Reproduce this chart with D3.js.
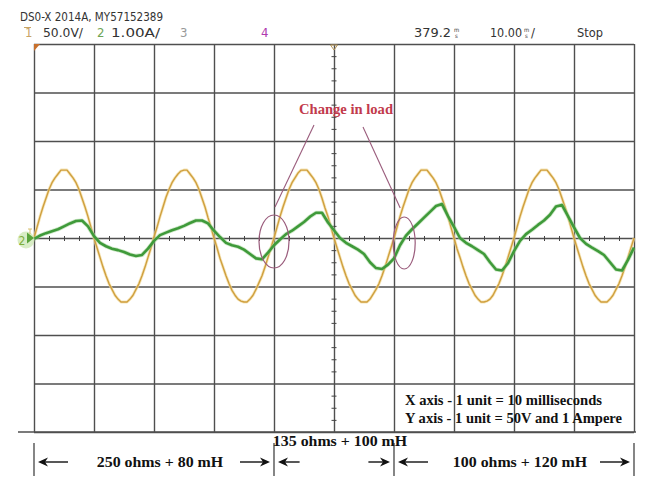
<!DOCTYPE html>
<html>
<head>
<meta charset="utf-8">
<script src="https://cdn.jsdelivr.net/npm/d3@7"></script>
<style>
  html, body { margin: 0; padding: 0; background: #fff; }
  svg { display: block; }
</style>
</head>
<body>
<svg id="scope" width="646" height="477"></svg>
<script>
// Oscilloscope capture: channel 1 = load voltage (50 V/div), channel 2 = load current (1 A/div), 10 ms/div

// Channel 1 voltage samples (V), one every 0.5 ms from 0 to 100 ms
const voltageSampleMs = 0.5;
const voltageV = [
  0, 11, 22, 32, 41, 50, 57, 62, 66, 70, 70, 70, 66, 62, 57, 50, 41, 32, 22, 11,
  0, -10, -20, -30, -39, -47, -53, -59, -63, -66, -66, -66, -63, -59, -53, -47, -39, -30, -20, -10,
  1, 11, 22, 32, 42, 50, 57, 62, 66, 69, 70, 70, 66, 62, 57, 50, 41, 32, 21, 11,
  0, -10, -21, -30, -39, -47, -54, -59, -63, -65, -66, -66, -63, -59, -53, -46, -39, -30, -20, -10,
  0, 11, 22, 32, 41, 50, 57, 62, 67, 70, 70, 70, 66, 62, 57, 50, 41, 31, 22, 11,
  0, -10, -20, -30, -39, -47, -53, -59, -63, -66, -66, -66, -63, -58, -53, -47, -39, -30, -20, -10,
  0, 11, 22, 32, 41, 50, 57, 62, 66, 70, 70, 70, 66, 62, 57, 50, 41, 32, 22, 11,
  0, -11, -20, -30, -39, -47, -53, -59, -63, -66, -66, -65, -63, -59, -53, -47, -39, -30, -20, -10,
  0, 11, 22, 32, 41, 50, 57, 62, 66, 70, 70, 70, 66, 62, 57, 50, 41, 32, 22, 11,
  0, -10, -20, -30, -39, -47, -53, -59, -63, -66, -66, -66, -63, -59, -53, -47, -39, -30, -20, -10,
  0
];

// Channel 2 current samples (A), one every 1 ms from 0 to 100 ms
const currentSampleMs = 1;
const currentA = [
  -0.02, 0.05, 0.10, 0.14, 0.18, 0.24, 0.30, 0.35, 0.36, 0.24,
  0.04, -0.10, -0.17, -0.22, -0.25, -0.29, -0.34, -0.37, -0.35, -0.22,
  -0.06, 0.06, 0.11, 0.16, 0.20, 0.25, 0.31, 0.36, 0.36, 0.30,
  0.15, 0.02, -0.10, -0.15, -0.18, -0.24, -0.33, -0.42, -0.44, -0.30,
  -0.15, -0.03, 0.08, 0.15, 0.24, 0.33, 0.44, 0.52, 0.52, 0.32,
  0.16, 0.00, -0.10, -0.17, -0.24, -0.33, -0.50, -0.62, -0.64, -0.55,
  -0.42, -0.15, 0.05, 0.18, 0.30, 0.42, 0.54, 0.66, 0.70, 0.45,
  0.23, 0.00, -0.10, -0.17, -0.25, -0.33, -0.50, -0.65, -0.67, -0.52,
  -0.27, -0.06, 0.08, 0.17, 0.27, 0.36, 0.48, 0.65, 0.68, 0.45,
  0.22, 0.00, -0.12, -0.20, -0.27, -0.35, -0.50, -0.65, -0.67, -0.45,
  -0.20
];

// Graticule: major divisions
const timeGridMs = [0, 10, 20, 30, 40, 50, 60, 70, 80, 90, 100];
const voltGridV = [-200, -150, -100, -50, 0, 50, 100, 150, 200];

// Load periods shown beneath the trace
const loadLabels = ["250 ohms + 80 mH", "135 ohms + 100 mH", "100 ohms + 120 mH"];
const loadStartMs = [0, 40, 60];
const loadEndMs = [40, 60, 100];

// Instants where the load is switched (ms)
const loadChangeMs = [40, 61.7];

// Header readouts
const modelText = "DS0-X 2014A, MY57152389";
const ch1Scale = "50.0V/";
const ch2Scale = "1.00A/";
const delayText = "379.2";
const timebaseText = "10.00";
const runState = "Stop";
const unitNotes = ["X axis - 1 unit = 10 milliseconds", "Y axis - 1 unit = 50V and 1 Ampere"];

// ---------------------------------------------------------------------------
(function draw() {
const svg = d3.select("#scope");
const plotL = 34, plotR = 634, plotT = 44, plotB = 432;

const x = d3.scaleLinear().domain([0, 100]).range([plotL, plotR]);
const yV = d3.scaleLinear().domain([-200, 200]).range([plotB, plotT]);
const yA = d3.scaleLinear().domain([-4, 4]).range([plotB, plotT]);

const gridColor = "#4f4f4f";
const narrow = "'Liberation Sans Narrow', 'Arial Narrow', 'DejaVu Sans Condensed', sans-serif";
const serif = "'Liberation Serif', 'Times New Roman', serif";

// Graticule lines via axes
const gx = svg.append("g")
  .attr("transform", `translate(0,${plotB})`)
  .call(d3.axisBottom(x).tickValues(timeGridMs).tickSize(-(plotB - plotT)).tickFormat(""));
gx.select(".domain").remove();
gx.selectAll("line").attr("stroke", gridColor).attr("stroke-width", 1.4);

const gy = svg.append("g")
  .attr("transform", `translate(${plotL},0)`)
  .call(d3.axisLeft(yV).tickValues(voltGridV).tickSize(-(plotR - plotL)).tickFormat(""));
gy.select(".domain").remove();
gy.selectAll("line").attr("stroke", gridColor).attr("stroke-width", 1.4);

// Bottom frame line runs a bit past the graticule
svg.append("line").attr("x1", 18).attr("x2", plotR + 2).attr("y1", plotB).attr("y2", plotB)
  .attr("stroke", gridColor).attr("stroke-width", 1.4);

// Minor ticks on the centre cross
const minorT = d3.range(0, 100.001, 10 / 4).filter(t => t % 10 !== 0);
const cx0 = x(50), cy0 = yV(0);
const hTicks = svg.append("g")
  .attr("transform", `translate(0,${cy0 - 2})`)
  .call(d3.axisBottom(x).tickValues(minorT).tickSize(5).tickFormat(""));
hTicks.select(".domain").remove();
hTicks.selectAll("line").attr("stroke", "#444").attr("stroke-width", 1);

const minorV = d3.range(-200, 200.001, 50 / 4).filter(v => v % 50 !== 0);
const vTicks = svg.append("g")
  .attr("transform", `translate(${cx0 - 2.5},0)`)
  .call(d3.axisRight(yV).tickValues(minorV).tickSize(5).tickFormat(""));
vTicks.select(".domain").remove();
vTicks.selectAll("line").attr("stroke", "#444").attr("stroke-width", 1);

// Traces
const vPts = voltageV.map((v, i) => [i * voltageSampleMs, v]);
const aPts = currentA.map((a, i) => [i * currentSampleMs, a]);

const vLine = d3.line().x(d => x(d[0])).y(d => yV(d[1]));
const aLine = d3.line().x(d => x(d[0])).y(d => yA(d[1]));

svg.append("path").datum(vPts).attr("d", vLine)
  .attr("fill", "none").attr("stroke", "#f2dc9c").attr("stroke-width", 3).attr("opacity", 0.7)
  .attr("stroke-linejoin", "round");
svg.append("path").datum(vPts).attr("d", vLine)
  .attr("fill", "none").attr("stroke", "#cf9f3e").attr("stroke-width", 1.4)
  .attr("stroke-linejoin", "round");

svg.append("path").datum(aPts).attr("d", aLine)
  .attr("fill", "none").attr("stroke", "#9fd494").attr("stroke-width", 4.2).attr("opacity", 0.5)
  .attr("stroke-linejoin", "round");
svg.append("path").datum(aPts).attr("d", aLine)
  .attr("fill", "none").attr("stroke", "#3f9a3a").attr("stroke-width", 2.6)
  .attr("stroke-linejoin", "round");

// Channel markers
svg.append("path").attr("d", `M${plotL},${plotT} L${plotL + 6},${plotT} L${plotL},${plotT + 7} Z`)
  .attr("fill", "#c8702c");
svg.append("path").attr("d", `M${cx0 - 3.5},${plotT + 1} L${cx0 + 3.5},${plotT + 1} L${cx0},${plotT + 6} Z`)
  .attr("fill", "none").attr("stroke", "#b8985a").attr("stroke-width", 1);

const gnd = svg.append("g");
gnd.append("circle").attr("cx", 26).attr("cy", 240).attr("r", 8.5).attr("fill", "#cfe8b8").attr("opacity", 0.8);
gnd.append("text").attr("x", 18.5).attr("y", 244.5).text("2")
  .attr("font-family", narrow).attr("font-size", 12).attr("fill", "#7fae3c");
gnd.append("path").attr("d", `M27,${cy0 - 5.5} L${plotL},${cy0} L27,${cy0 + 5.5} Z`).attr("fill", "#5aa43c");
gnd.append("line").attr("x1", 28).attr("x2", 32).attr("y1", 229).attr("y2", 229)
  .attr("stroke", "#d8c070").attr("stroke-width", 1);
gnd.append("line").attr("x1", 30).attr("x2", 30).attr("y1", 229).attr("y2", 234)
  .attr("stroke", "#d8c070").attr("stroke-width", 1);

// Header
const hdr = svg.append("g").attr("font-family", narrow).attr("font-size", 13).attr("fill", "#333");
hdr.append("text").attr("x", 20).attr("y", 21).text(modelText)
  .attr("textLength", 143).attr("lengthAdjust", "spacingAndGlyphs");

const row = 37;
hdr.append("text").attr("x", 25).attr("y", row).text("1").attr("fill", "#c9a466");
hdr.append("line").attr("x1", 24).attr("x2", 31).attr("y1", row - 9.5).attr("y2", row - 9.5)
  .attr("stroke", "#c9a466").attr("stroke-width", 1);
hdr.append("text").attr("x", 43).attr("y", row).text(ch1Scale)
  .attr("textLength", 40).attr("lengthAdjust", "spacingAndGlyphs");
hdr.append("text").attr("x", 97).attr("y", row).text("2").attr("fill", "#6ea554");
hdr.append("text").attr("x", 111).attr("y", row).text(ch2Scale)
  .attr("textLength", 49).attr("lengthAdjust", "spacingAndGlyphs");
hdr.append("text").attr("x", 180).attr("y", row).text("3").attr("fill", "#999");
hdr.append("text").attr("x", 261).attr("y", row).text("4").attr("fill", "#b03ab0");

// Stacked "m over s" unit glyph, drawn as one text element
function msMark(g, mx) {
  const t = g.append("text").attr("x", mx).attr("y", row - 5.5).attr("font-size", 6);
  t.append("tspan").attr("x", mx).text("m");
  t.append("tspan").attr("x", mx + 1).attr("dy", 6.5).text("s");
}
hdr.append("text").attr("x", 414).attr("y", row).text(delayText)
  .attr("textLength", 37).attr("lengthAdjust", "spacingAndGlyphs");
msMark(hdr, 454);
hdr.append("text").attr("x", 490).attr("y", row).text(timebaseText)
  .attr("textLength", 32).attr("lengthAdjust", "spacingAndGlyphs");
msMark(hdr, 524);
hdr.append("text").attr("x", 531).attr("y", row).text("/");
hdr.append("text").attr("x", 577).attr("y", row).text(runState)
  .attr("textLength", 26).attr("lengthAdjust", "spacingAndGlyphs");

// Load-change callout
const callColor = "#9a5c7c";
const e1 = { cx: x(loadChangeMs[0]), cy: cy0 + 3.5, rx: 15, ry: 26.5 };
const e2 = { cx: x(loadChangeMs[1]), cy: cy0 + 5, rx: 11, ry: 26 };
[e1, e2].forEach(e => {
  svg.append("ellipse").attr("cx", e.cx).attr("cy", e.cy).attr("rx", e.rx).attr("ry", e.ry)
    .attr("fill", "none").attr("stroke", callColor).attr("stroke-width", 1.2);
});
svg.append("line").attr("x1", e1.cx + 1).attr("y1", e1.cy - e1.ry - 8).attr("x2", 314).attr("y2", 125)
  .attr("stroke", callColor).attr("stroke-width", 1.1);
svg.append("line").attr("x1", e2.cx - 4).attr("y1", e2.cy - e2.ry - 9).attr("x2", 363).attr("y2", 127)
  .attr("stroke", callColor).attr("stroke-width", 1.1);
svg.append("text").attr("x", 346).attr("y", 114).attr("text-anchor", "middle")
  .attr("font-family", serif).attr("font-weight", "bold").attr("font-size", 14)
  .attr("fill", "#c23a4c").attr("textLength", 94).attr("lengthAdjust", "spacingAndGlyphs")
  .text("Change in load");

// Unit notes
const notes = svg.append("g").attr("font-family", serif).attr("font-weight", "bold")
  .attr("font-size", 14).attr("fill", "#111");
notes.append("text").attr("x", 405).attr("y", 405).text(unitNotes[0])
  .attr("textLength", 197).attr("lengthAdjust", "spacingAndGlyphs");
notes.append("text").attr("x", 405).attr("y", 423).text(unitNotes[1])
  .attr("textLength", 217).attr("lengthAdjust", "spacingAndGlyphs");

// Load period markers under the graticule
const lg = svg.append("g");
const bounds = Array.from(new Set(loadStartMs.concat(loadEndMs)));
bounds.forEach(t => {
  lg.append("line").attr("x1", x(t)).attr("x2", x(t)).attr("y1", 443).attr("y2", 476)
    .attr("stroke", "#222").attr("stroke-width", 1.1);
});

function arrow(x1, x2, y) {
  const dir = Math.sign(x2 - x1);
  lg.append("line").attr("x1", x1).attr("x2", x2 - dir * 6).attr("y1", y).attr("y2", y)
    .attr("stroke", "#111").attr("stroke-width", 1.4);
  lg.append("path").attr("d", `M${x2},${y} L${x2 - dir * 10},${y - 4.5} L${x2 - dir * 7},${y} L${x2 - dir * 10},${y + 4.5} Z`)
    .attr("fill", "#111");
}
const arrowY = 462;
loadLabels.forEach((lab, i) => {
  const xs = x(loadStartMs[i]), xe = x(loadEndMs[i]);
  const len = Math.min(30, (xe - xs) * 0.18);
  arrow(xs + 4 + len, xs + 4, arrowY);
  arrow(xe - 4 - len, xe - 4, arrowY);
  const wide = (xe - xs) > 150;
  const label = lg.append("text")
    .attr("x", (xs + xe) / 2 + 6)
    .attr("y", wide ? 467 : 446)
    .attr("text-anchor", "middle")
    .attr("font-family", serif).attr("font-weight", "bold").attr("font-size", 14.5).attr("fill", "#111")
    .text(lab);
  // fit label to the printed width (about 7.9 px per character)
  label.attr("textLength", lab.length * 7.9).attr("lengthAdjust", "spacingAndGlyphs");
});
})();
</script>
</body>
</html>
